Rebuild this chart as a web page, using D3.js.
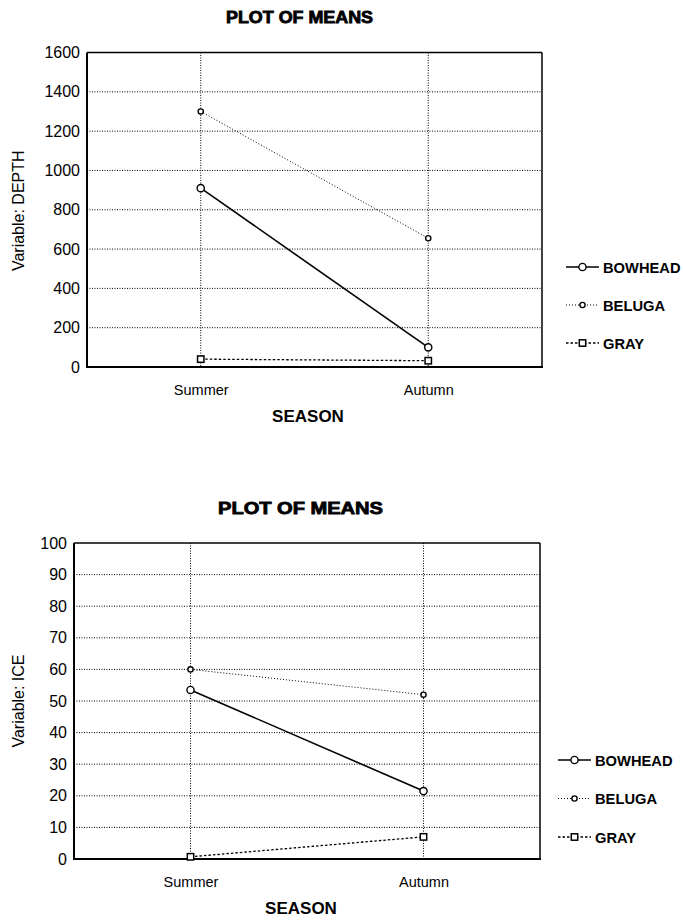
<!DOCTYPE html>
<html><head><meta charset="utf-8">
<script src="https://cdn.jsdelivr.net/npm/d3@7"></script>
<style>body{margin:0;background:#fff}svg{display:block}</style>
</head><body><svg id="c" width="683" height="922"></svg>
<script>
const seasons = ["Summer", "Autumn"];
const seriesNames = ["BOWHEAD", "BELUGA", "GRAY"];
// Chart 1: DEPTH
const depthBowhead = [910, 100];
const depthBeluga = [1300, 655];
const depthGray = [40, 32];
const depthTicks = [0, 200, 400, 600, 800, 1000, 1200, 1400, 1600];
// Chart 2: ICE
const iceBowhead = [53.5, 21.5];
const iceBeluga = [60, 52];
const iceGray = [0.7, 7];
const iceTicks = [0, 10, 20, 30, 40, 50, 60, 70, 80, 90, 100];

const svg = d3.select("#c");
const FONT = "'Liberation Sans', Arial, sans-serif";

const styles = {
  BOWHEAD: {dash: null, w: 1.6, marker: "circle", r: 3.6},
  BELUGA: {dash: "1,2", w: 1, marker: "circle", r: 2.6},
  GRAY: {dash: "2.5,2", w: 1.3, marker: "square", r: 3.2}
};

function drawChart(cfg) {
  const g = svg.append("g");
  const x = d3.scalePoint().domain(seasons).range([cfg.left, cfg.right]).padding(0.5);
  const y = d3.scaleLinear().domain([0, cfg.max]).range([cfg.bottom, cfg.top]);

  // title
  g.append("text").attr("x", cfg.titleX).attr("y", cfg.titleY).attr("text-anchor", "middle")
    .attr("font-family", FONT).attr("font-weight", "900").attr("font-size", 16)
    .attr("textLength", cfg.titleW).attr("lengthAdjust", "spacingAndGlyphs")
    .attr("stroke", "#000").attr("stroke-width", 0.8).text("PLOT OF MEANS");

  // gridlines horizontal
  g.selectAll(".hg").data(cfg.ticks.filter(t => t > 0 && t < cfg.max)).enter().append("line")
    .attr("x1", cfg.left).attr("x2", cfg.right).attr("y1", d => y(d)).attr("y2", d => y(d))
    .attr("stroke", "#000").attr("stroke-width", 1).attr("stroke-dasharray", "1,1.5");
  // gridlines vertical
  g.selectAll(".vg").data(seasons).enter().append("line")
    .attr("x1", d => x(d)).attr("x2", d => x(d)).attr("y1", cfg.top).attr("y2", cfg.bottom)
    .attr("stroke", "#000").attr("stroke-width", 1).attr("stroke-dasharray", "1,1.5");

  // y axis
  const ya = d3.axisLeft(y).tickValues(cfg.ticks).tickFormat(d3.format("d")).tickSize(0).tickPadding(7);
  const yg = g.append("g").attr("transform", `translate(${cfg.left},0)`).call(ya);
  yg.select(".domain").remove();
  yg.selectAll("text").attr("font-family", FONT).attr("font-size", 16).attr("fill", "#000");

  // x axis labels
  const xa = d3.axisBottom(x).tickSize(0).tickPadding(cfg.xPad);
  const xg = g.append("g").attr("transform", `translate(0,${cfg.bottom})`).call(xa);
  xg.select(".domain").remove();
  xg.selectAll("text").attr("font-family", FONT).attr("font-size", 14.5).attr("fill", "#000");

  // frame
  g.append("line").attr("x1", cfg.left).attr("x2", cfg.right).attr("y1", cfg.top).attr("y2", cfg.top).attr("stroke", "#000").attr("stroke-width", 1.5);
  g.append("line").attr("x1", cfg.right).attr("x2", cfg.right).attr("y1", cfg.top).attr("y2", cfg.bottom).attr("stroke", "#000").attr("stroke-width", 1.5);
  g.append("line").attr("x1", cfg.left).attr("x2", cfg.left).attr("y1", cfg.top).attr("y2", cfg.bottom).attr("stroke", "#000").attr("stroke-width", 2);
  g.append("line").attr("x1", cfg.left - 1).attr("x2", cfg.right + 1).attr("y1", cfg.bottom).attr("y2", cfg.bottom).attr("stroke", "#000").attr("stroke-width", 2);

  // y label
  g.append("text").attr("transform", `translate(${cfg.ylabX},${(cfg.top + cfg.bottom) / 2 + cfg.ylabDy}) rotate(-90)`)
    .attr("text-anchor", "middle").attr("font-family", FONT).attr("font-size", 16).text(cfg.ylab);
  // x label
  g.append("text").attr("x", cfg.xlabX).attr("y", cfg.xlabY).attr("text-anchor", "middle")
    .attr("font-family", FONT).attr("font-weight", "bold").attr("font-size", 17).text("SEASON");

  const line = d3.line().x((d, i) => x(seasons[i])).y(d => y(d));
  cfg.series.forEach((vals, si) => {
    const st = styles[seriesNames[si]];
    g.append("path").attr("d", line(vals)).attr("fill", "none").attr("stroke", "#000")
      .attr("stroke-width", st.w).attr("stroke-dasharray", st.dash);
    vals.forEach((v, i) => drawMarker(g, st, x(seasons[i]), y(v)));
  });

  // legend
  seriesNames.forEach((n, i) => {
    const st = styles[n];
    const ly = cfg.legY + i * cfg.legStep;
    g.append("line").attr("x1", cfg.legX).attr("x2", cfg.legX + 33).attr("y1", ly).attr("y2", ly)
      .attr("stroke", "#000").attr("stroke-width", st.w).attr("stroke-dasharray", st.dash);
    drawMarker(g, st, cfg.legX + 16.5, ly);
    g.append("text").attr("x", cfg.legX + 37).attr("y", ly + 5.5).attr("font-family", FONT)
      .attr("font-weight", "bold").attr("font-size", 14.7).text(n);
  });
}

function drawMarker(g, st, cx, cy) {
  if (st.marker === "circle") {
    g.append("circle").attr("cx", cx).attr("cy", cy).attr("r", st.r).attr("fill", "#fff")
      .attr("stroke", "#000").attr("stroke-width", 1.4);
  } else {
    g.append("rect").attr("x", cx - st.r).attr("y", cy - st.r).attr("width", st.r * 2).attr("height", st.r * 2)
      .attr("fill", "#fff").attr("stroke", "#000").attr("stroke-width", 1.5);
  }
}

drawChart({
  left: 87, right: 542, top: 52.5, bottom: 367, max: 1600, ticks: depthTicks,
  series: [depthBowhead, depthBeluga, depthGray],
  titleX: 299.5, titleY: 23, titleW: 147, ylab: "Variable: DEPTH", ylabX: 24, ylabDy: 1,
  xPad: 18, xlabX: 308, xlabY: 422,
  legX: 566, legY: 267, legStep: 38
});
drawChart({
  left: 74, right: 540, top: 543, bottom: 859, max: 100, ticks: iceTicks,
  series: [iceBowhead, iceBeluga, iceGray],
  titleX: 300.5, titleY: 514, titleW: 165, ylab: "Variable: ICE", ylabX: 24, ylabDy: 0,
  xPad: 18, xlabX: 301, xlabY: 914,
  legX: 558, legY: 760, legStep: 38.5
});
</script></body></html>
